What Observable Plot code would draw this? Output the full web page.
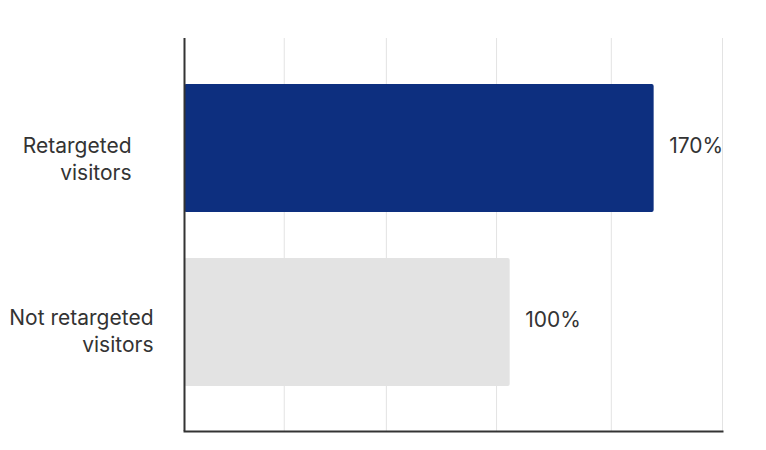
<!DOCTYPE html>
<html><head><meta charset="utf-8">
<script src="https://cdn.jsdelivr.net/npm/d3@7"></script>
<script src="https://cdn.jsdelivr.net/npm/@observablehq/plot@0.6"></script>
<style>body{margin:0;background:#fff} #chart{width:766px;height:450px}</style>
</head><body><div id="chart"></div>
<script>
const categories = ["Retargeted visitors", "Not retargeted visitors"];
const labelLines = ["Retargeted\nvisitors", "Not retargeted\nvisitors"];
const values = [170, 100];
const valueLabels = ["170%", "100%"];
const gridTicks = [18, 50, 94, 148, 207];
const palette = ["#0d2f7f", "#e3e3e3"];

const data = categories.map((c, i) => ({category: c, label: labelLines[i], value: values[i], text: valueLabels[i]}));

const chart = Plot.plot({
  width: 766, height: 450,
  marginLeft: 184, marginRight: 44, marginTop: 38, marginBottom: 19,
  style: {fontFamily: "Inter, sans-serif", fontSize: "21px", color: "#333", background: "#fff"},
  x: {type: "pow", exponent: 0.69, domain: [0, 207], axis: null},
  y: {domain: categories, paddingInner: 0.267, paddingOuter: 0.258, axis: null},
  color: {domain: categories, range: palette},
  marks: [
    Plot.ruleX(gridTicks, {stroke: "#e3e3e3", strokeWidth: 1}),
    Plot.barX(data, {x: "value", y: "category", fill: "category", rx: 2}),
    Plot.text(data, {x: "value", y: "category", text: "text", textAnchor: "start", dx: 15, dy: -2, fill: "#333"}),
    Plot.text(data, {filter: d => d.category === categories[0], frameAnchor: "left", y: "category", text: "label", textAnchor: "end", dx: -53, lineAnchor: "middle", dy: 9, lineHeight: 1.31, fill: "#333"}),
    Plot.text(data, {filter: d => d.category === categories[1], frameAnchor: "left", y: "category", text: "label", textAnchor: "end", dx: -31, lineAnchor: "middle", dy: 7, lineHeight: 1.31, fill: "#333"}),
    Plot.ruleX([0], {stroke: "#333", strokeWidth: 2}),
    Plot.frame({anchor: "bottom", stroke: "#333", strokeWidth: 2})
  ]
});
document.getElementById("chart").append(chart);
</script>
</body></html>
